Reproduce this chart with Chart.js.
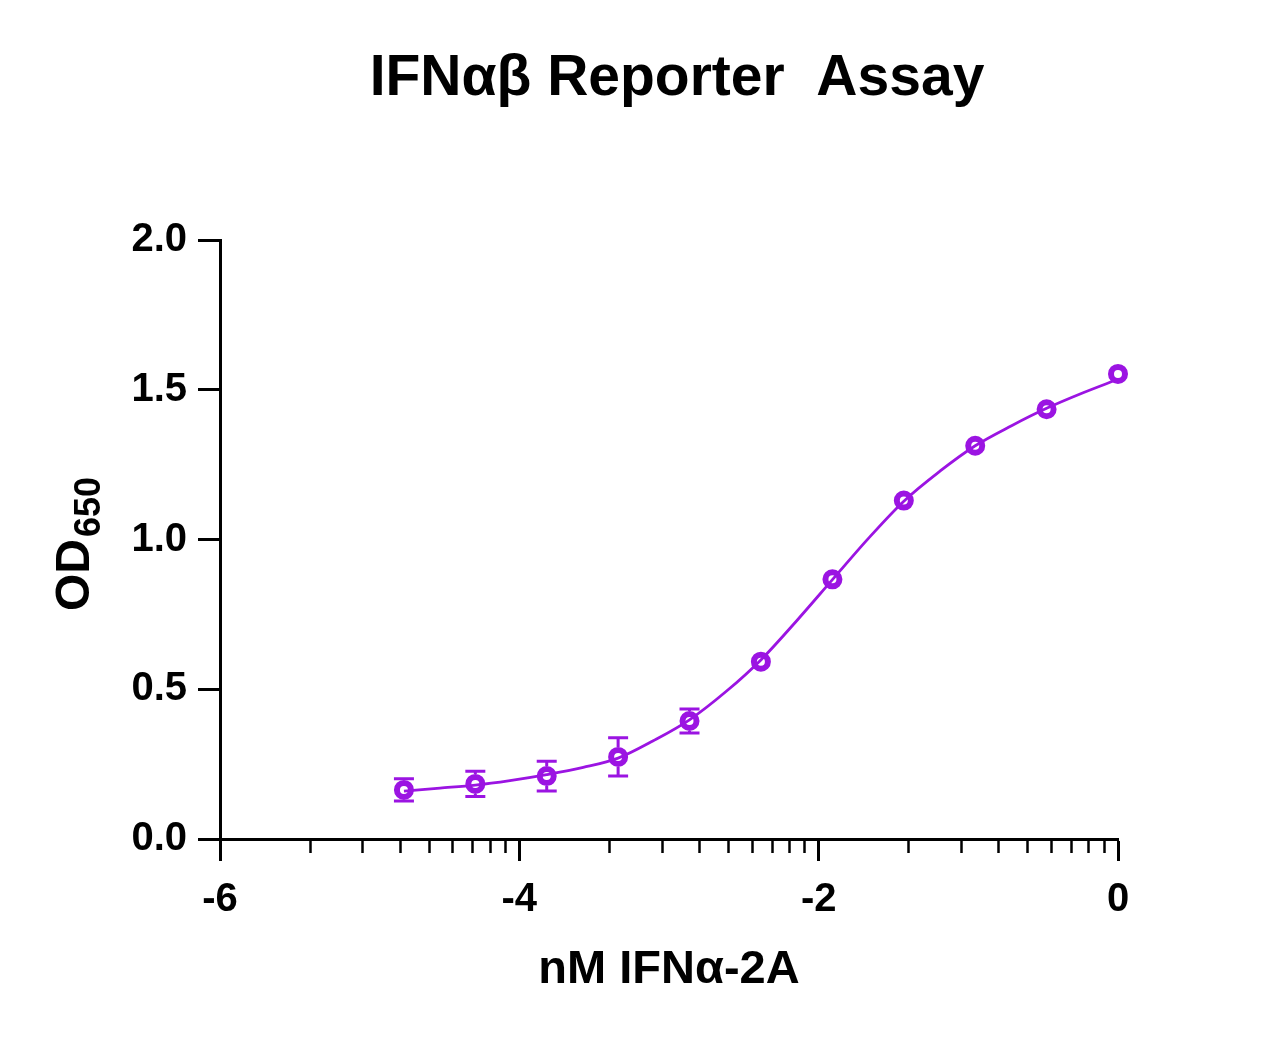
<!DOCTYPE html>
<html>
<head>
<meta charset="utf-8">
<title>IFNαβ Reporter Assay</title>
<script src="https://cdn.jsdelivr.net/npm/chart.js@4.4.1/dist/chart.umd.min.js"></script>
<style>
  html, body { margin: 0; padding: 0; background: #fff; }
  canvas { display: block; }
</style>
</head>
<body>
<canvas id="grafico" width="1262" height="1039"></canvas>
<script>
// Dados (log10 da concentração em nM)
const logConc = [-4.771, -4.294, -3.817, -3.34, -2.863, -2.386, -1.908, -1.431, -0.954, -0.477, 0];
const od650 = [0.164, 0.184, 0.210, 0.274, 0.394, 0.592, 0.867, 1.130, 1.313, 1.435, 1.553];
const desvio = [0.037, 0.042, 0.050, 0.064, 0.040, 0.015, 0.015, 0.015, 0.015, 0.015, 0.015];

// Curva ajustada (pontos lidos sobre a linha)
const curvaX = [-4.771, -4.53, -4.294, -4.063, -3.817, -3.573, -3.34, -3.105, -2.863, -2.615, -2.386,
                -2.148, -1.908, -1.669, -1.431, -1.19, -0.954, -0.711, -0.477, -0.233, 0];
const curvaY = [0.160, 0.170, 0.180, 0.195, 0.215, 0.239, 0.270, 0.328, 0.398, 0.494, 0.598,
                0.728, 0.866, 1.003, 1.128, 1.228, 1.313, 1.380, 1.438, 1.490, 1.535];

// Eixos
const ticksX = [-6, -4, -2, 0];
const ticksY = [0, 0.5, 1.0, 1.5, 2.0];
const titulo = "IFNαβ Reporter  Assay";
const tituloX = "nM IFNα-2A";

const cor = "#9B14E2";
const fonte = "'Liberation Sans', Arial, Helvetica, sans-serif";
Chart.defaults.font.family = fonte;
Chart.defaults.color = "#000";

// ticks menores em escala log dentro de cada intervalo de 2 unidades
const ticksMenores = [];
for (let i = 0; i < ticksX.length - 1; i++) {
    for (let k = 2; k <= 9; k++) {
        ticksMenores.push(ticksX[i] + (ticksX[i + 1] - ticksX[i]) * Math.log10(k));
    }
}
const ehMaior = v => ticksX.some(t => Math.abs(t - v) < 1e-6);

const raioPonto = 7;
const bordaPonto = 6;

const pluginErro = {
    id: 'barrasErro',
    afterDatasetsDraw(chart) {
        const ctx = chart.ctx;
        const x = chart.scales.x, y = chart.scales.y;
        const r = raioPonto + bordaPonto / 2;
        ctx.save();
        ctx.strokeStyle = cor;
        ctx.lineWidth = 3;
        logConc.forEach((c, i) => {
            const px = x.getPixelForValue(c);
            const pc = y.getPixelForValue(od650[i]);
            const pTopo = y.getPixelForValue(od650[i] + desvio[i]);
            const pBase = y.getPixelForValue(od650[i] - desvio[i]);
            if (pc - pTopo > r) {
                ctx.beginPath();
                ctx.moveTo(px, pc - r); ctx.lineTo(px, pTopo);
                ctx.moveTo(px - 10, pTopo); ctx.lineTo(px + 10, pTopo);
                ctx.moveTo(px, pc + r); ctx.lineTo(px, pBase);
                ctx.moveTo(px - 10, pBase); ctx.lineTo(px + 10, pBase);
                ctx.stroke();
            }
        });
        ctx.restore();
    }
};

const pluginTextos = {
    id: 'textos',
    afterDraw(chart) {
        const ctx = chart.ctx;
        ctx.save();
        ctx.fillStyle = "#000";
        ctx.font = "bold 57px " + fonte;
        ctx.textAlign = "center";
        ctx.textBaseline = "alphabetic";
        ctx.fillText(titulo, 677, 95);

        // OD com subscrito 650
        ctx.translate(89, 611);
        ctx.rotate(-Math.PI / 2);
        ctx.textAlign = "left";
        ctx.font = "bold 48px " + fonte;
        ctx.fillText("OD", 0, 0);
        const w = ctx.measureText("OD").width;
        ctx.font = "bold 36px " + fonte;
        ctx.fillText("650", w + 2, 11);
        ctx.restore();
    }
};

const grafico = new Chart(document.getElementById('grafico'), {
    type: 'scatter',
    data: {
        datasets: [{
            label: 'OD650',
            data: logConc.map((c, i) => ({ x: c, y: od650[i] })),
            pointStyle: 'circle',
            pointRadius: raioPonto,
            pointBorderWidth: bordaPonto,
            pointBorderColor: cor,
            pointBackgroundColor: 'rgba(0,0,0,0)',
            showLine: false,
            clip: false,
            order: 1
        }, {
            label: 'Ajuste',
            data: curvaX.map((c, i) => ({ x: c, y: curvaY[i] })),
            showLine: true,
            borderColor: cor,
            borderWidth: 2.8,
            pointRadius: 0,
            cubicInterpolationMode: 'monotone',
            clip: false,
            order: 2
        }]
    },
    options: {
        responsive: false,
        animation: false,
        layout: { padding: { top: 240, right: 144, left: 0, bottom: 0 } },
        plugins: {
            legend: { display: false },
            tooltip: { enabled: false },
            title: { display: false }
        },
        scales: {
            x: {
                type: 'linear',
                min: -6,
                max: 0,
                afterFit: s => { s.height = 200; },
                afterBuildTicks: s => {
                    s.ticks = ticksX.concat(ticksMenores).sort((a, b) => a - b).map(v => ({ value: v }));
                },
                border: { display: true, width: 3, color: '#000' },
                grid: {
                    drawOnChartArea: false,
                    tickLength: 22,
                    tickColor: '#000',
                    tickWidth: c => ehMaior(c.tick.value) ? 3 : 2.5,
                    tickBorderDash: c => ehMaior(c.tick.value) ? [] : [12, 60]
                },
                ticks: {
                    autoSkip: false,
                    maxRotation: 0,
                    padding: 15,
                    font: { size: 40, weight: 'bold' },
                    callback: v => ehMaior(v) ? String(Math.round(v)) : ''
                },
                title: {
                    display: true,
                    text: tituloX,
                    font: { size: 47, weight: 'bold' },
                    padding: { top: 0, bottom: 41 }
                }
            },
            y: {
                type: 'linear',
                min: 0,
                max: 2,
                afterFit: s => { s.width = 220; },
                afterBuildTicks: s => { s.ticks = ticksY.map(v => ({ value: v })); },
                border: { display: true, width: 3, color: '#000' },
                grid: {
                    drawOnChartArea: false,
                    tickLength: 22,
                    tickColor: '#000',
                    tickWidth: 3
                },
                ticks: {
                    padding: 11,
                    font: { size: 40, weight: 'bold' },
                    callback: v => Number(v).toFixed(1)
                }
            }
        }
    },
    plugins: [pluginErro, pluginTextos]
});
</script>
</body>
</html>
